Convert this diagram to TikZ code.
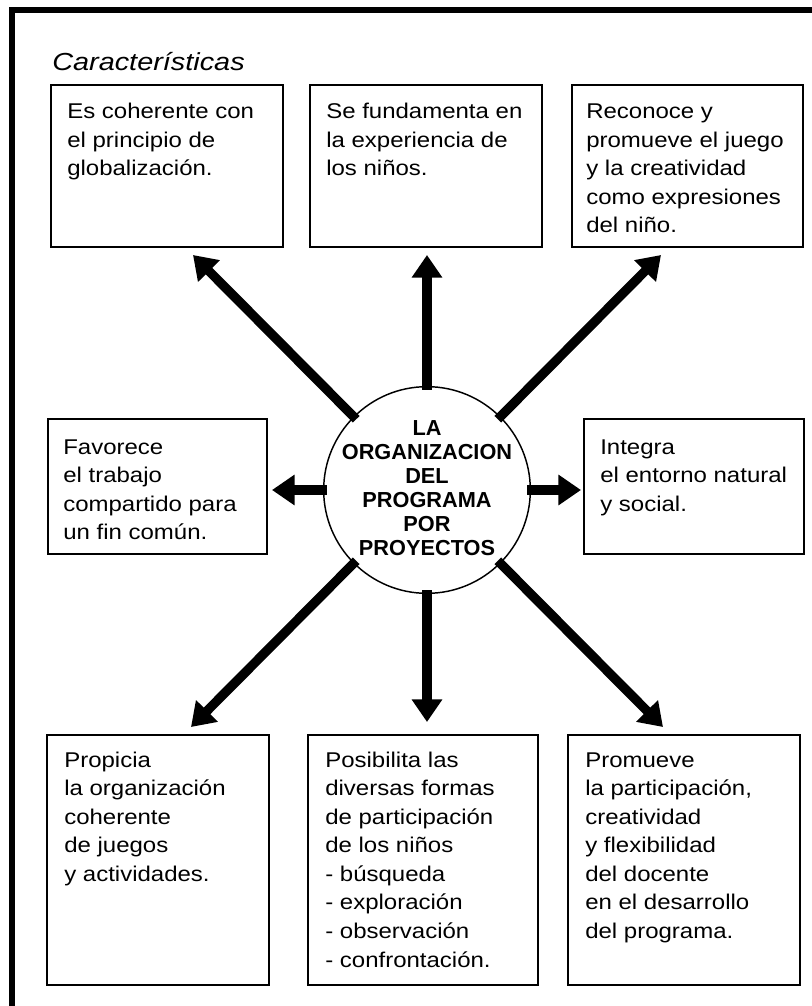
\documentclass[tikz,border=0pt]{standalone}
\usepackage{fontspec}
\setmainfont{Liberation Sans}
\newfontfamily\bodyfont{Liberation Sans}[FakeStretch=1.125]
\newfontfamily\headfont{Liberation Sans}[FakeStretch=1.17]
\newfontfamily\centfont{Liberation Sans}
\usetikzlibrary{arrows.meta}
\begin{document}
\begin{tikzpicture}[x=0.75pt,y=-0.75pt,
  box/.style={draw, line width=1.2pt, anchor=north west, inner sep=0pt},
  txt/.style={anchor=north west, inner sep=0pt, align=left,
    font=\bodyfont\fontsize{16pt}{21.4pt}\selectfont},
  arr/.style={line width=7pt, -{Triangle[width=22pt,length=17pt]}, shorten <=-3pt},
  frame/.style={line width=4.5pt, line join=miter},
]
\useasboundingbox (0,0) rectangle (811,1006);
\fill[white] (0,0) rectangle (811,1006);
\draw[frame] (12,1012) -- (12,10) -- (818,10);

% heading
\node[anchor=base west, inner sep=0pt, font=\headfont\itshape\fontsize{18.5pt}{22pt}\selectfont] (head) at (52,70) {Características};

% boxes
\node[box, minimum width=174pt, minimum height=121.5pt] (tl) at (50,84) {};
\node[box, minimum width=174pt, minimum height=121.5pt] (tm) at (309,84) {};
\node[box, minimum width=173.25pt, minimum height=121.5pt] (tr) at (571,84) {};
\node[box, minimum width=164.25pt, minimum height=101.25pt] (ml) at (47,418) {};
\node[box, minimum width=165pt, minimum height=101.25pt] (mr) at (583,418) {};
\node[box, minimum width=166.5pt, minimum height=187.5pt] (bl) at (46,734) {};
\node[box, minimum width=172.5pt, minimum height=187.5pt] (bm) at (307,734) {};
\node[box, minimum width=174pt, minimum height=187.5pt] (br) at (567,734) {};

% texts (first baseline 17.33px below north)
\node[txt] (tlt) at (67,101.2) {\rule{0pt}{13pt}Es coherente con\\el principio de\\globalización.};
\node[txt] (tmt) at (326,101.2) {\rule{0pt}{13pt}Se fundamenta en\\la experiencia de\\los niños.};
\node[txt] (trt) at (586,101.2) {\rule{0pt}{13pt}Reconoce y\\promueve el juego\\y la creatividad\\como expresiones\\del niño.};
\node[txt] (mlt) at (63,436.7) {\rule{0pt}{13pt}Favorece\\el trabajo\\compartido para\\un fin común.};
\node[txt] (mrt) at (600,436.7) {\rule{0pt}{13pt}Integra\\el entorno natural\\y social.};
\node[txt] (blt) at (64,749.7) {\rule{0pt}{13pt}Propicia\\la organización\\coherente\\de juegos\\y actividades.};
\node[txt] (bmt) at (325,749.7) {\rule{0pt}{13pt}Posibilita las\\diversas formas\\de participación\\de los niños\\- búsqueda\\- exploración\\- observación\\- confrontación.};
\node[txt] (brt) at (585,749.7) {\rule{0pt}{13pt}Promueve\\la participación,\\creatividad\\y flexibilidad\\del docente\\en el desarrollo\\del programa.};

% centre
\node[circle, draw, line width=1.1pt, fill=white, minimum size=155pt, inner sep=0pt] (c) at (427,490) {};
\node[align=center, inner sep=0pt, font=\centfont\bfseries\fontsize{16.3pt}{18pt}\selectfont] (ct) at (427,488)
  {LA\\ORGANIZACION\\DEL\\PROGRAMA\\POR\\PROYECTOS};

% arrow tips
\coordinate (pUL) at (193,255);
\coordinate (pU) at (427,255);
\coordinate (pUR) at (661,255);
\coordinate (pL) at (272,490);
\coordinate (pR) at (581,490);
\coordinate (pDL) at (191,727);
\coordinate (pD) at (427,722);
\coordinate (pDR) at (663,727);

\draw[arr] (c.135) -- (pUL);
\draw[arr] (c.90) -- (pU);
\draw[arr] (c.45) -- (pUR);
\draw[arr] (c.180) -- (pL);
\draw[arr] (c.0) -- (pR);
\draw[arr] (c.225) -- (pDL);
\draw[arr] (c.270) -- (pD);
\draw[arr] (c.315) -- (pDR);
\end{tikzpicture}
\end{document}
